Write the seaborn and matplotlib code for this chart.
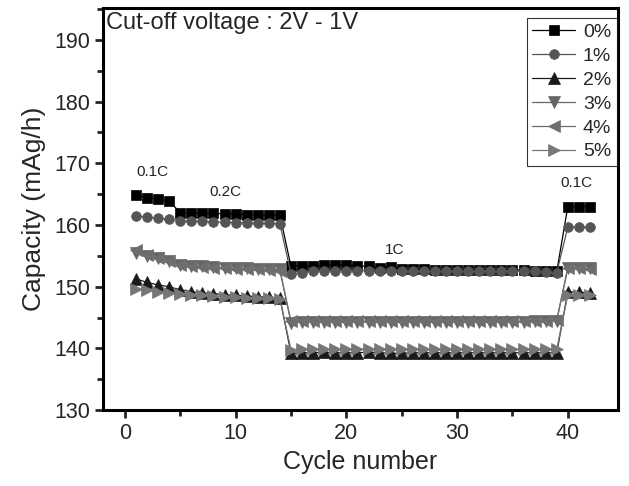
import numpy as np
import pandas as pd
import matplotlib
matplotlib.use("Agg")
import matplotlib.pyplot as plt
import seaborn as sns
from matplotlib.ticker import MultipleLocator

cycles = list(range(1, 43))

s0 = [164.9, 164.4, 164.2, 163.9,
      162.0, 162.0, 161.9, 161.9, 161.8, 161.8, 161.7, 161.7, 161.6, 161.6,
      153.3, 153.4, 153.3, 153.5, 153.5, 153.6, 153.4, 153.3, 153.1, 153.2,
      152.8, 152.8, 152.8, 152.7, 152.7, 152.7, 152.7, 152.7, 152.7, 152.7,
      152.7, 152.7, 152.6, 152.6, 152.5,
      163.0, 163.0, 163.0]
s1 = [161.4, 161.3, 161.1, 160.9,
      160.7, 160.6, 160.6, 160.5, 160.5, 160.4, 160.4, 160.3, 160.3, 160.2,
      152.1, 152.3, 152.5, 152.6, 152.6, 152.6, 152.6, 152.6, 152.6, 152.6,
      152.6, 152.6, 152.6, 152.5, 152.5, 152.5, 152.5, 152.5, 152.5, 152.5,
      152.5, 152.5, 152.5, 152.4, 152.3,
      159.7, 159.7, 159.6]
s2 = [151.3, 150.7, 150.3, 150.0,
      149.5, 149.2, 149.0, 148.9, 148.7, 148.6, 148.5, 148.4, 148.3, 148.2,
      139.2, 139.3, 139.3, 139.4, 139.3, 139.3, 139.3, 139.4, 139.3, 139.2,
      139.2, 139.3, 139.3, 139.3, 139.3, 139.3, 139.3, 139.3, 139.3, 139.3,
      139.3, 139.3, 139.3, 139.3, 139.3,
      149.2, 149.1, 149.0]
s3 = [155.4, 155.0, 154.6, 154.2,
      153.6, 153.4, 153.3, 153.2, 153.1, 153.0, 153.0, 152.9, 152.8, 152.8,
      144.2, 144.3, 144.3, 144.3, 144.3, 144.3, 144.3, 144.3, 144.3, 144.3,
      144.3, 144.3, 144.3, 144.3, 144.3, 144.3, 144.3, 144.3, 144.3, 144.3,
      144.3, 144.3, 144.4, 144.4, 144.5,
      153.1, 153.0, 153.0]
s4 = [155.9, 155.1, 154.6, 154.2,
      153.5, 153.3, 153.2, 153.1, 153.0, 152.9, 152.8, 152.8, 152.7, 152.6,
      144.4, 144.4, 144.4, 144.4, 144.4, 144.4, 144.4, 144.4, 144.4, 144.4,
      144.4, 144.4, 144.4, 144.4, 144.4, 144.4, 144.4, 144.4, 144.4, 144.4,
      144.4, 144.4, 144.5, 144.5, 144.6,
      153.0, 153.0, 152.9]
s5 = [149.6, 149.4, 149.2, 149.0,
      148.8, 148.7, 148.6, 148.5, 148.4, 148.3, 148.2, 148.2, 148.1, 148.0,
      139.8, 139.9, 139.9, 139.9, 139.9, 139.9, 139.9, 139.9, 139.9, 139.9,
      139.9, 139.9, 139.9, 139.9, 139.9, 139.9, 139.9, 139.9, 139.9, 139.9,
      139.9, 139.9, 139.9, 139.9, 139.9,
      148.7, 148.6, 148.6]

labels = ["0%", "1%", "2%", "3%", "4%", "5%"]
series = [s0, s1, s2, s3, s4, s5]
markers = ["s", "o", "^", "v", "<", ">"]
colors = ["#000000", "#555555", "#1a1a1a", "#666666", "#6e6e6e", "#777777"]

rate_labels = ["0.1C", "0.2C", "1C", "0.1C"]
rate_x = [2.5, 9.1, 24.4, 40.8]
rate_y = [168.6, 165.3, 155.9, 166.8]

df = pd.DataFrame({
    "Cycle": np.tile(cycles, len(labels)),
    "Capacity": np.concatenate(series),
    "Content": np.repeat(labels, len(cycles)),
})

sns.set_theme(style="ticks")
plt.rcParams["font.family"] = ["Liberation Sans", "DejaVu Sans"]

fig = plt.figure(figsize=(6.29, 4.86), dpi=100)
ax = fig.add_axes([0.164, 0.156, 0.818, 0.828])

for lab, mk, col in zip(labels, markers, colors):
    sub = df[df["Content"] == lab]
    ms = 7 if mk in ("s", "o") else 8
    sns.lineplot(data=sub, x="Cycle", y="Capacity", ax=ax, color=col,
                 marker=mk, markersize=ms, markeredgecolor=col,
                 markeredgewidth=0.5, linewidth=0.9, label=lab)

for t, xx, yy in zip(rate_labels, rate_x, rate_y):
    ax.text(xx, yy, t, ha="center", va="center", fontsize=11, color="#222222")

ax.text(0.005, 0.99, "Cut-off voltage : 2V - 1V", transform=ax.transAxes,
        ha="left", va="top", fontsize=17)

ax.set_xlim(-1.96, 44.5)
ax.set_ylim(130, 195.2)
ax.xaxis.set_major_locator(MultipleLocator(10))
ax.xaxis.set_minor_locator(MultipleLocator(5))
ax.yaxis.set_major_locator(MultipleLocator(10))
ax.yaxis.set_minor_locator(MultipleLocator(5))
ax.tick_params(which="major", length=6, width=2, labelsize=15.5, direction="out")
ax.tick_params(which="minor", length=4, width=2, direction="out")
for sp in ax.spines.values():
    sp.set_linewidth(2.2)
    sp.set_color("black")

ax.set_xlabel("Cycle number", fontsize=18, labelpad=4)
ax.set_ylabel("Capacity (mAg/h)", fontsize=19, labelpad=6)

leg = ax.legend(loc="upper right", fontsize=14, frameon=True, fancybox=False,
                handlelength=2.2, borderpad=0.3, labelspacing=0.32,
                handletextpad=0.4, borderaxespad=0.0,
                bbox_to_anchor=(0.999, 0.975))
leg.get_frame().set_edgecolor("black")
leg.get_frame().set_linewidth(0.8)

fig.savefig("out.png", dpi=100)
